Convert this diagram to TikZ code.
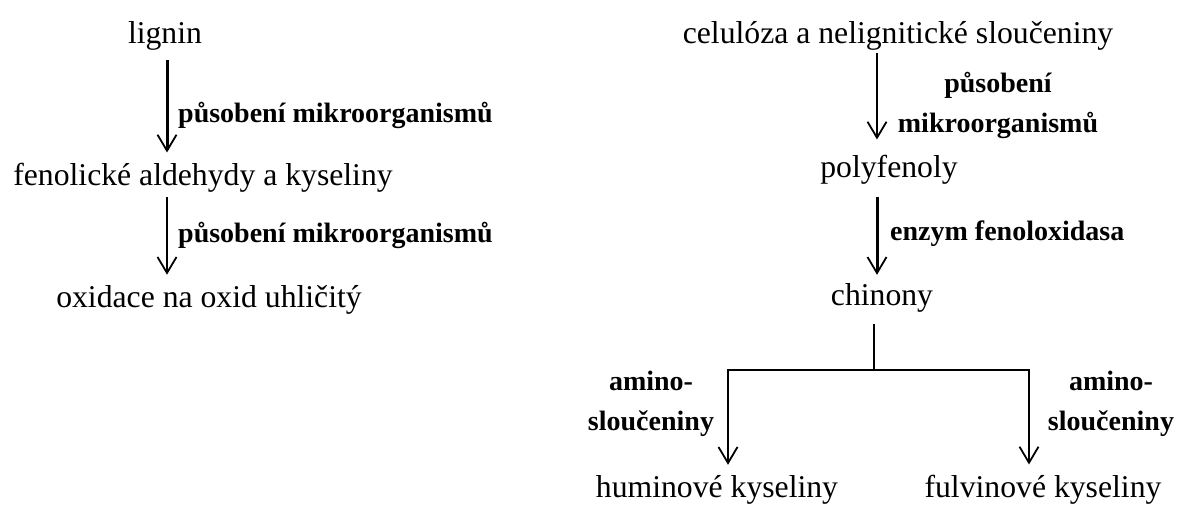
\documentclass[tikz,border=0pt]{standalone}
\usepackage{fontspec}
\setmainfont{Liberation Serif}
\usetikzlibrary{arrows.meta}

\begin{document}
\begin{tikzpicture}
  [x=1pt,y=-1pt,
   every node/.style={inner sep=0pt,anchor=base,font=\fontsize{31.7}{38}\selectfont},
   lbl/.style={font=\fontsize{28}{39.5}\selectfont\bfseries},
   >={Straight Barb[length=16pt,width=19pt,line width=1.8pt]},
   flow/.style={line width=1.5pt,->},
   heavy flow/.style={line width=3pt,->}]
  \path[use as bounding box,fill=white] (0,0) rectangle (1181,504);

  % left column
  \node (lig) at (165,43)  {lignin};
  \node (fen) at (203,185) {fenolické aldehydy a kyseliny};
  \node (oxi) at (209,307) {oxidace na oxid uhličitý};

  % right column
  \node (cel) at (898,43)   {celulóza a nelignitické sloučeniny};
  \node (pol) at (889,177)  {polyfenoly};
  \node (chi) at (882,305)  {chinony};
  \node (hum) at (717,497)  {huminové kyseliny};
  \node (ful) at (1043,497) {fulvinové kyseliny};

  % labels
  \node[lbl,anchor=base west] (lab1) at (178,122) {působení mikroorganismů};
  \node[lbl,anchor=base west] (lab2) at (178,242) {působení mikroorganismů};
  \node[lbl,align=center] (lab3) at (998,132) {působení\\mikroorganismů};
  \node[lbl,anchor=base west] (lab4) at (890,240) {enzym fenoloxidasa};
  \node[lbl,align=center] (lab5) at (651,430) {amino-\\sloučeniny};
  \node[lbl,align=center] (lab6) at (1111,430) {amino-\\sloučeniny};

  \coordinate (cl) at (167,0);
  \coordinate (cr) at (877,0);
  \coordinate (j)  at (874,370);
  \coordinate (jl) at (728,370);
  \coordinate (jr) at (1029,370);

  \draw[heavy flow,shorten <=10pt,shorten >=10pt] (cl |- lig.south) -- (cl |- fen.north);
  \draw[flow,shorten <=5pt,shorten >=10pt] (cl |- fen.south) -- (cl |- oxi.north);
  \draw[flow,line width=1.3pt,shorten <=3pt,shorten >=15pt] (cr |- cel.south) -- (cr |- pol.north);
  \draw[heavy flow,shorten <=13pt,shorten >=8pt] (cr |- pol.south) -- (cr |- chi.north);

  \draw[line width=1.3pt,shorten <=12pt] (j |- chi.south) -- (j);
  \draw[line width=2.4pt,<->,shorten <=10pt,shorten >=10pt]
    (jl |- hum.north) -- (jl) -- (jr) -- (jr |- ful.north);
\end{tikzpicture}
\end{document}
